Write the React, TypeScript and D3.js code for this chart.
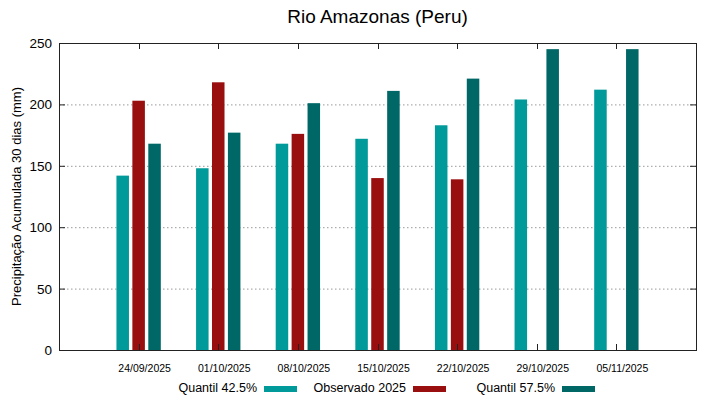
import React from "react";
import * as d3 from "d3";

const dates = ["2025-09-24", "2025-10-01", "2025-10-08", "2025-10-15", "2025-10-22", "2025-10-29", "2025-11-05"];
const q425 = [142, 148, 168, 172, 183, 204, 212];
const observed: (number | null)[] = [203, 218, 176, 140, 139, null, null];
const q575 = [168, 177, 201, 211, 221, 245, 245];
const yTicks = [0, 50, 100, 150, 200, 250];
const seriesNames = ["Quantil 42.5%", "Observado 2025", "Quantil 57.5%"];
const colors = ["#009a9a", "#990f0f", "#006767"];

const W = 719, H = 399;
const M = { left: 59, right: 696, top: 43, bottom: 350 };
const DAY = 86400000;

export default function App() {
  const parse = d3.utcParse("%Y-%m-%d");
  const dts = dates.map((d) => parse(d)!);
  const x = d3
    .scaleUtc()
    .domain([new Date(dts[0].getTime() - 7 * DAY), new Date(dts[dts.length - 1].getTime() + 7 * DAY)])
    .range([M.left, M.right]);
  const y = d3.scaleLinear().domain([0, 250]).range([M.bottom, M.top]);
  const fmt = d3.utcFormat("%d/%m/%Y");
  const offs = [-1.4, 0, 1.4];
  const bw = 1.1;
  const series = [q425, observed, q575];
  const font = "'Liberation Sans', Arial, sans-serif";

  const legend = [
    { tx: 257, sx: 264 },
    { tx: 406, sx: 413 },
    { tx: 555, sx: 562 },
  ];

  return (
    <svg width={W} height={H} style={{ position: "absolute", left: 0, top: 0, background: "#fff" }} fontFamily={font}>
      <text x={(M.left + M.right) / 2} y={23} textAnchor="middle" fontSize={19} fill="#000">
        Rio Amazonas (Peru)
      </text>
      {/* grid */}
      {yTicks.filter((t) => t > 0 && t < 250).map((t) => (
        <line key={"g" + t} x1={M.left} x2={M.right} y1={y(t) + 0.5} y2={y(t) + 0.5} stroke="#999" strokeWidth={1} strokeDasharray="1.5,2.5" />
      ))}
      {/* bars */}
      {series.map((s, si) =>
        s.map((v, i) => {
          if (v == null) return null;
          const c = dts[i].getTime() + offs[si] * DAY;
          const x0 = x(new Date(c - (bw / 2) * DAY));
          const x1 = x(new Date(c + (bw / 2) * DAY));
          return <rect key={si + "-" + i} x={x0} y={y(v)} width={x1 - x0} height={y(0) - y(v)} fill={colors[si]} />;
        })
      )}
      {/* frame */}
      <rect x={M.left + 0.5} y={M.top + 0.5} width={M.right - M.left} height={M.bottom - M.top} fill="none" stroke="#222" strokeWidth={1} />
      {/* y ticks */}
      {yTicks.map((t) => (
        <g key={"y" + t}>
          <line x1={M.left} x2={M.left + 6} y1={y(t) + 0.5} y2={y(t) + 0.5} stroke="#222" />
          <line x1={M.right - 6} x2={M.right} y1={y(t) + 0.5} y2={y(t) + 0.5} stroke="#222" />
          <text x={M.left - 7} y={y(t) + 5} textAnchor="end" fontSize={13.5} fill="#000">
            {t}
          </text>
        </g>
      ))}
      {/* x ticks */}
      {dts.map((d, i) => (
        <g key={"x" + i}>
          <line x1={Math.round(x(d)) + 0.5} x2={Math.round(x(d)) + 0.5} y1={M.bottom} y2={M.bottom - 6} stroke="#222" />
          <line x1={Math.round(x(d)) + 0.5} x2={Math.round(x(d)) + 0.5} y1={M.top} y2={M.top + 6} stroke="#222" />
          <text x={x(d) + 6} y={371.5} textAnchor="middle" fontSize={10.5} fill="#000">
            {fmt(d)}
          </text>
        </g>
      ))}
      <text transform={`translate(21,${(M.top + M.bottom) / 2}) rotate(-90)`} textAnchor="middle" fontSize={13} fill="#000">
        Precipitação Acumulada 30 dias (mm)
      </text>
      {/* legend */}
      {seriesNames.map((n, i) => (
        <g key={"l" + i}>
          <text x={legend[i].tx} y={392} textAnchor="end" fontSize={12.5} fill="#000">
            {n}
          </text>
          <rect x={legend[i].sx} y={386} width={33} height={6} fill={colors[i]} />
        </g>
      ))}
    </svg>
  );
}
